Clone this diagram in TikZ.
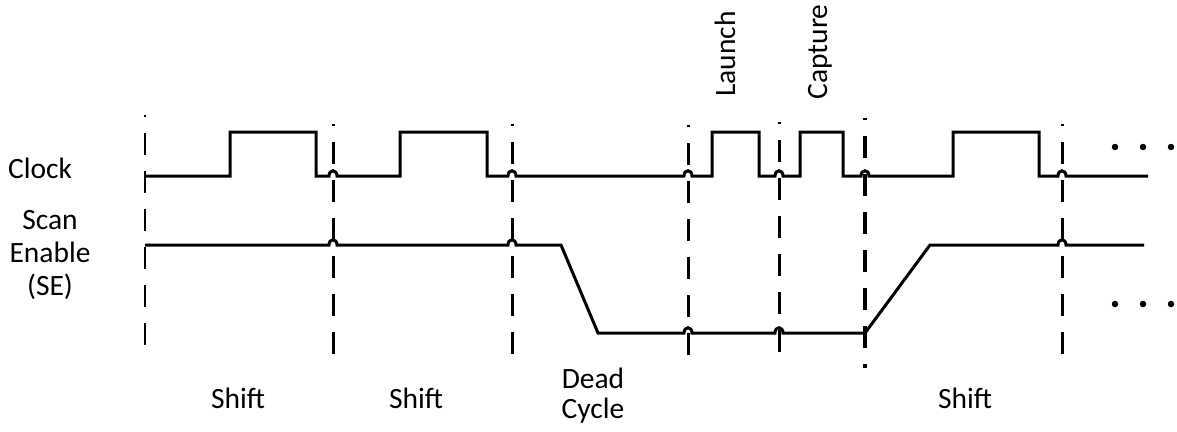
\documentclass[tikz,border=0pt]{standalone}
\usepackage{fontspec}
\setmainfont{Carlito}
\usepackage{tikz}
\usetikzlibrary{positioning,calc}
\definecolor{tdblack}{RGB}{0,0,0}
% hop over a dashed marker line
\newcommand{\hop}[2]{-- ({#1-4},#2) .. controls ({#1-4},{#2-7}) and ({#1+4},{#2-7}) .. ({#1+4},#2)}
\tikzset{
  signal/.style={draw=tdblack, line width=3pt, line join=miter},
  marker/.style={draw=tdblack, line width=3pt,
    dash pattern=on 22pt off 16pt, dash phase=20pt},
  sigtext/.style={font=\fontsize{29.5}{33}\selectfont, inner sep=0pt, anchor=base},
  dotmark/.style={circle, fill=tdblack, inner sep=0pt, minimum size=6.5pt}
}
\begin{document}
\begin{tikzpicture}[x=1pt, y=-1pt]
  \useasboundingbox (0,0) rectangle (1177,431);

  % Cycle boundaries
  \draw[marker, line width=2.6pt] (145,115) -- (145,357);
  \draw[marker] (333,124) -- (333,365);
  \draw[marker] (512,124) -- (512,365);
  \draw[marker] (688,125) -- (688,363);
  \draw[marker] (779,122) -- (779,364);
  \draw[marker, line width=3.8pt] (865,118) -- (865,368);
  \draw[marker] (1062,124) -- (1062,365);

  % Clock waveform
  \draw[signal] (145,176) -- (230,176) -- (230,132) -- (316,132) -- (316,176)
    \hop{333}{176} -- (400,176) -- (400,132) -- (487,132) -- (487,176)
    \hop{512}{176} \hop{688}{176} -- (712,176) -- (712,132) -- (759,132) -- (759,176)
    \hop{779}{176} -- (800,176) -- (800,132) -- (843,132) -- (843,176)
    \hop{865}{176} -- (953,176) -- (953,132) -- (1039,132) -- (1039,176)
    \hop{1062}{176} -- (1148,176);

  % Scan enable waveform
  \draw[signal] (145,245) \hop{333}{245} \hop{512}{245} -- (561,245) -- (598,333)
    \hop{688}{333} \hop{779}{333} -- (865,333) -- (930,245)
    \hop{1062}{245} -- (1144,245);

  % Continuation dots
  \foreach \x in {1115,1143,1171} {
    \node[dotmark] (dc\x) at (\x,147) {};
    \node[dotmark] (ds\x) at (\x,304) {};
  }

  % Signal names
  \node[sigtext] (clk) at (40,178) {Clock};
  \node[sigtext] (se1) at (50,229) {Scan};
  \node[sigtext] (se2) at (50,262) {Enable};
  \node[sigtext] (se3) at (50,295) {(SE)};

  % Events
  \node[sigtext, rotate=90] (launch) at (735,54) {Launch};
  \node[sigtext, rotate=90] (capture) at (827,52) {Capture};

  % Phases
  \node[sigtext] (sh1) at (238,408) {Shift};
  \node[sigtext] (sh2) at (416,408) {Shift};
  \node[sigtext] (dead1) at (593,388) {Dead};
  \node[sigtext] (dead2) at (593,418) {Cycle};
  \node[sigtext] (sh3) at (965,408) {Shift};
\end{tikzpicture}
\end{document}
